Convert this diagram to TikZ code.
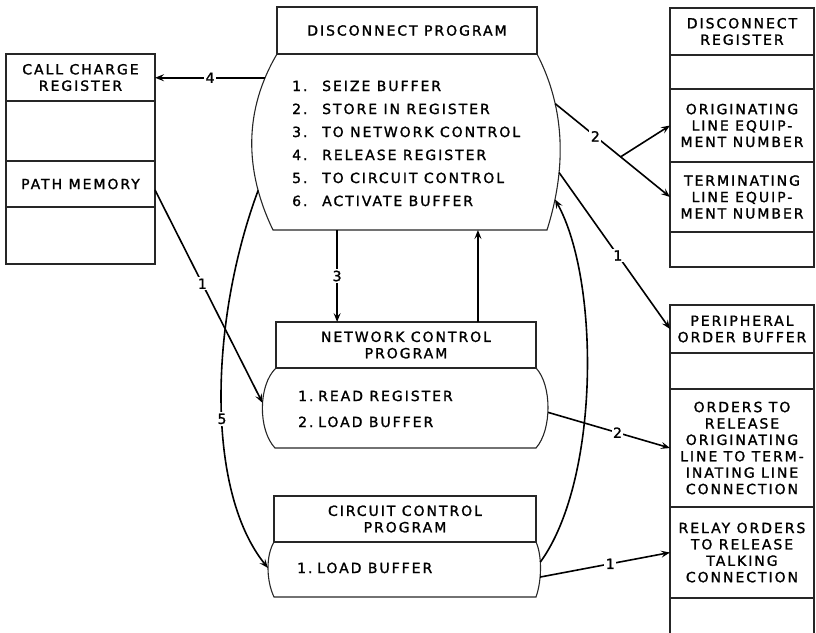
\documentclass[tikz,border=0pt]{standalone}
\usepackage{fontspec}
\newfontfamily\lettering[LetterSpace=14,FakeBold=1.4]{DejaVu Sans}
\usetikzlibrary{arrows.meta,positioning}
\tikzset{
  cell/.style={draw=black!85,line width=1.1pt,outer sep=0pt,inner sep=2pt,
    align=center,minimum width=144pt,
    font=\lettering\fontsize{14}{16.4}\selectfont},
  barrel/.style={draw=black!85,line width=1.1pt},
  steps/.style={anchor=base west,inner sep=0pt},
  arr/.style={-{Stealth[length=9pt,width=7pt,inset=3.5pt]},line width=1.6pt},
  num/.style={fill=white,inner sep=1.5pt,
    font=\lettering\fontsize{14}{16}\selectfont}
}
\begin{document}
\begin{tikzpicture}[x=1pt,y=-1pt]
  \useasboundingbox (0,0) rectangle (816,632);
  \clip (0,0) rectangle (816,632);

  % register columns
  \node[cell,minimum width=149pt,minimum height=47pt,anchor=north west] (ccr) at (6,54) {CALL CHARGE\\REGISTER};
  \node[cell,minimum width=149pt,minimum height=60pt,below=0pt of ccr] (ccr2) {};
  \node[cell,minimum width=149pt,minimum height=46pt,below=0pt of ccr2] (pm) {PATH MEMORY};
  \node[cell,minimum width=149pt,minimum height=57pt,below=0pt of pm] (pm2) {};

  \node[cell,minimum height=47pt,anchor=north west] (dreg) at (670,8) {DISCONNECT\\REGISTER};
  \node[cell,minimum height=34pt,below=0pt of dreg] (dreg2) {};
  \node[cell,minimum height=73pt,below=0pt of dreg2] (olen) {ORIGINATING\\LINE EQUIP-\\MENT NUMBER};
  \node[cell,minimum height=70pt,below=0pt of olen] (tlen) {TERMINATING\\LINE EQUIP-\\MENT NUMBER};
  \node[cell,minimum height=35pt,below=0pt of tlen] (dreg5) {};

  \node[cell,minimum height=48pt,anchor=north west] (pob) at (670,305) {PERIPHERAL\\ORDER BUFFER};
  \node[cell,minimum height=36pt,below=0pt of pob] (pob2) {};
  \node[cell,minimum height=118pt,below=0pt of pob2] (ord) {ORDERS TO\\RELEASE\\ORIGINATING\\LINE TO TERM-\\INATING LINE\\CONNECTION};
  \node[cell,minimum height=91pt,below=0pt of ord] (relay) {RELAY ORDERS\\TO RELEASE\\TALKING\\CONNECTION};
  \node[cell,minimum height=44pt,below=0pt of relay] (pob5) {};

  % programs: heading box over a barrel-shaped body
  \node[cell,minimum width=260pt,minimum height=47pt,anchor=north west] (dp) at (277,7) {DISCONNECT PROGRAM};
  \draw[barrel] (dp.south west)
      .. controls (244,110) and (244,170) .. (273,230)
      coordinate[pos=0.14] (dp-w4) coordinate[pos=0.78] (dp-w5)
    -- (547,230)
      coordinate[pos=0.234] (dp-s3) coordinate[pos=0.748] (dp-s6)
    .. controls (566,170) and (566,110) .. (dp.south east)
      coordinate[pos=0.17] (dp-e6) coordinate[pos=0.32] (dp-e1) coordinate[pos=0.71] (dp-e2);
  \node[steps] (dptext) at (292,91) {\lettering\fontsize{14}{23}\selectfont
    \begin{tabular}[t]{@{}p{30pt}@{}l@{}}
      1. & SEIZE BUFFER\\
      2. & STORE IN REGISTER\\
      3. & TO NETWORK CONTROL\\
      4. & RELEASE REGISTER\\
      5. & TO CIRCUIT CONTROL\\
      6. & ACTIVATE BUFFER
    \end{tabular}};

  \node[cell,minimum width=260pt,minimum height=46pt,anchor=north west] (ncp) at (276,322) {NETWORK CONTROL\\PROGRAM};
  \draw[barrel] (ncp.south west)
      .. controls (258,385) and (258,430) .. (275,448)
      coordinate[pos=0.45] (ncp-w)
    -- (536,448)
    .. controls (552,430) and (552,385) .. (ncp.south east)
      coordinate[pos=0.45] (ncp-e);
  \node[steps] (ncptext) at (298,401) {\lettering\fontsize{14}{26}\selectfont
    \begin{tabular}[t]{@{}p{20pt}@{}l@{}}
      1. & READ REGISTER\\
      2. & LOAD BUFFER
    \end{tabular}};

  \node[cell,minimum width=262pt,minimum height=46pt,anchor=north west] (ccp) at (274,496) {CIRCUIT CONTROL\\PROGRAM};
  \draw[barrel] (ccp.south west)
      .. controls (266,555) and (266,580) .. (274,597)
      coordinate[pos=0.5] (ccp-w)
    -- (536,597)
    .. controls (542,580) and (542,555) .. (ccp.south east)
      coordinate[pos=0.35] (ccp-e1) coordinate[pos=0.6] (ccp-e6);
  \node[steps] (ccptext) at (297,573) {\lettering\fontsize{14}{26}\selectfont
    \begin{tabular}[t]{@{}p{20pt}@{}l@{}}
      1. & LOAD BUFFER
    \end{tabular}};

  % numbered order flow
  \draw[arr] (dp-w4) -- node[num]{4} (ccr.east |- dp-w4);
  \draw[arr] (dp-s3) -- node[num]{3} (dp-s3 |- ncp.north);
  \draw[arr] (ncp.north -| dp-s6) -- (dp-s6);
  \draw[arr] (dp-e2) -- node[num,pos=0.35]{2} coordinate[pos=0.57] (fork) (tlen.west);
  \draw[arr] (fork) -- (olen.west);
  \draw[arr] (dp-e1) -- node[num,pos=0.53]{1} (pob.west);
  \draw[arr] ([yshift=-6pt]pm.east) -- node[num,pos=0.44]{1} (ncp-w);
  \draw[arr] (dp-w5) .. controls (210,320) and (205,490) .. node[num,pos=0.55]{5} (ccp-w);
  \draw[arr] (ncp-e) -- node[num,pos=0.57]{2} (ord.west);
  \draw[arr] (ccp-e1) -- node[num,pos=0.54]{1} (relay.west);
  \draw[arr] (ccp-e6) .. controls (600,480) and (600,280) .. (dp-e6);
\end{tikzpicture}
\end{document}
